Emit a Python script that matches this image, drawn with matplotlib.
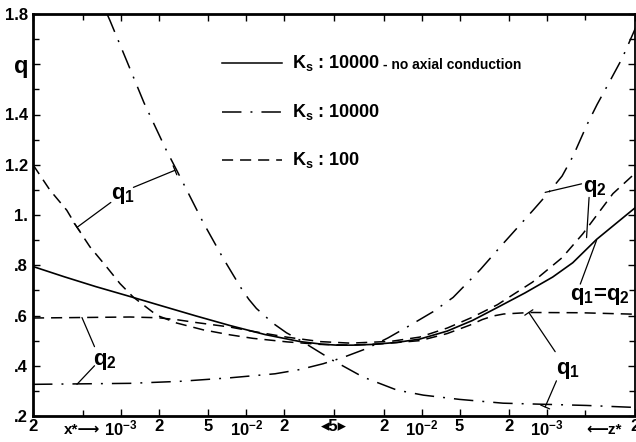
import numpy as np
import matplotlib.pyplot as plt

plt.rcParams['font.family'] = ['Liberation Sans', 'DejaVu Sans']
plt.rcParams['font.weight'] = 'bold'
plt.rcParams['mathtext.fontset'] = 'custom'
plt.rcParams['mathtext.rm'] = 'Liberation Sans:bold'
plt.rcParams['mathtext.it'] = 'Liberation Sans:bold'
plt.rcParams['mathtext.bf'] = 'Liberation Sans:bold'
plt.rcParams['lines.scale_dashes'] = False

# axis position in decades: x* from 2e-4 up to 5e-2 (middle), then z* from 5e-2 down to 2e-4
half = np.log10(5e-2 / 2e-4)

def pos_x(x):
    return np.log10(x / 2e-4)

def pos_z(z):
    return 2 * half - np.log10(z / 2e-4)

# tick values
x_ticks = [2e-4, 1e-3, 2e-3, 5e-3, 1e-2, 2e-2]
x_labels = ['2', '10$^{-3}$', '2', '5', '10$^{-2}$', '2']
z_ticks = [2e-2, 1e-2, 5e-3, 2e-3, 1e-3, 2e-4]
z_labels = ['2', '10$^{-2}$', '5', '2', '10$^{-3}$', '2']
mid_label = '◂5▸'
y_ticks = [0.2, 0.4, 0.6, 0.8, 1.0, 1.2, 1.4, 1.6, 1.8]
y_labels = ['.2', '.4', '.6', '.8', '1.', '1.2', '1.4', 'q', '1.8']

# Ks = 10000, no axial conduction (q1 = q2)
solid_pos = [0, 0.25, 0.5, 0.77, 1.0, 1.3, 1.57, 1.85, 2.13, 2.3, 2.42, 2.55, 2.71, 2.9, 3.08, 3.30, 3.50, 3.70, 3.92, 4.14, 4.30, 4.49, 4.80]
solid_q = [0.795, 0.754, 0.715, 0.676, 0.642, 0.598, 0.560, 0.524, 0.496, 0.486, 0.482, 0.482, 0.485, 0.493, 0.506, 0.538, 0.580, 0.632, 0.69, 0.753, 0.81, 0.903, 1.03]

# Ks = 10000, q1 and q2
dd_q1_pos = [0.59, 0.614, 0.747, 0.884, 1.06, 1.145, 1.355, 1.51, 1.594, 1.663, 1.72, 1.78, 1.915, 2.02, 2.13, 2.39, 2.63, 2.90, 3.11, 3.40, 3.745, 4.41, 4.80]
dd_q1 = [1.80, 1.773, 1.613, 1.447, 1.26, 1.178, 0.971, 0.832, 0.762, 0.705, 0.664, 0.628, 0.568, 0.531, 0.501, 0.421, 0.355, 0.303, 0.283, 0.266, 0.251, 0.242, 0.234]
dd_q2_pos = [0, 0.773, 1.171, 1.57, 1.928, 2.127, 2.311, 2.47, 2.661, 2.829, 3.004, 3.187, 3.347, 3.562, 3.745, 3.984, 4.10, 4.215, 4.303, 4.414, 4.494, 4.598, 4.693, 4.805]
dd_q2 = [0.326, 0.33, 0.338, 0.352, 0.368, 0.385, 0.408, 0.433, 0.469, 0.511, 0.561, 0.615, 0.672, 0.782, 0.886, 1.019, 1.085, 1.155, 1.235, 1.36, 1.44, 1.535, 1.623, 1.75]

# Ks = 100, q1 and q2
d_q1_pos = [0, 0.135, 0.269, 0.348, 0.454, 0.587, 0.693, 0.797, 0.986, 1.145, 1.355, 1.57, 1.753, 2.024, 2.287, 2.526, 2.765, 3.084, 3.299, 3.482, 3.58, 3.665, 3.75, 3.96, 4.359, 4.805]
d_q1 = [1.20, 1.099, 1.019, 0.953, 0.873, 0.793, 0.727, 0.674, 0.601, 0.570, 0.543, 0.523, 0.509, 0.495, 0.485, 0.482, 0.487, 0.50, 0.528, 0.562, 0.584, 0.598, 0.606, 0.612, 0.611, 0.605]
d_q2_pos = [0, 0.773, 1.0, 1.15, 1.30, 1.57, 1.75, 2.02, 2.29, 2.53, 2.85, 3.08, 3.30, 3.50, 3.70, 3.98, 4.215, 4.38, 4.62, 4.805]
d_q2 = [0.59, 0.594, 0.591, 0.583, 0.572, 0.554, 0.537, 0.514, 0.496, 0.49, 0.497, 0.514, 0.55, 0.593, 0.643, 0.733, 0.83, 0.925, 1.085, 1.17]

DD = (14, 6.5, 1.4, 6.5)
DA = (8, 5)

fig = plt.figure(figsize=(6.36, 4.42), dpi=100)
ax = fig.add_axes([33 / 636, 26 / 442, 602 / 636, 402 / 442])

ax.plot(solid_pos, solid_q, color='black', lw=1.2)
ax.plot(dd_q1_pos, dd_q1, color='black', lw=1.1, dashes=DD)
ax.plot(dd_q2_pos, dd_q2, color='black', lw=1.1, dashes=DD)
ax.plot(d_q1_pos, d_q1, color='black', lw=1.1, dashes=DA)
ax.plot(d_q2_pos, d_q2, color='black', lw=1.1, dashes=DA)

ax.set_xlim(0, 2 * half)
ax.set_ylim(0.2, 1.8)

# legend drawn by hand
leg_y = [1.605, 1.41, 1.218]
ax.plot([1.506, 1.984], [leg_y[0]] * 2, color='black', lw=1.1)
ax.plot([1.506, 1.984], [leg_y[1]] * 2, color='black', lw=1.1, dashes=DD)
ax.plot([1.506, 1.984], [leg_y[2]] * 2, color='black', lw=1.1, dashes=DA)
ax.text(2.06, leg_y[0], 'K$_\\mathrm{s}$ : 10000', fontsize=13, va='center')
ax.text(2.79, leg_y[0] - 0.008, '- no axial conduction', fontsize=10, va='center')
ax.text(2.06, leg_y[1], 'K$_\\mathrm{s}$ : 10000', fontsize=13, va='center')
ax.text(2.06, leg_y[2], 'K$_\\mathrm{s}$ : 100', fontsize=13, va='center')

# labels with leader lines
bar = dict(arrowstyle='-[, widthB=0.35, lengthB=0', color='black', lw=0.9, shrinkA=0, shrinkB=0)
plain = dict(arrowstyle='-', color='black', lw=0.9, shrinkA=0, shrinkB=0)

ax.text(0.717, 1.079, 'q$_1$', fontsize=16, ha='center', va='center')
ax.annotate('', xy=(0.351, 0.951), xytext=(0.62, 1.05), arrowprops=bar)
ax.annotate('', xy=(1.131, 1.178), xytext=(0.80, 1.11), arrowprops=bar)

ax.text(0.574, 0.415, 'q$_2$', fontsize=16, ha='center', va='center')
ax.annotate('', xy=(0.39, 0.592), xytext=(0.49, 0.476), arrowprops=plain)
ax.annotate('', xy=(0.35, 0.326), xytext=(0.49, 0.40), arrowprops=plain)

ax.text(4.478, 1.106, 'q$_2$', fontsize=16, ha='center', va='center')
ax.annotate('', xy=(4.08, 1.09), xytext=(4.37, 1.124), arrowprops=plain)
ax.annotate('', xy=(4.41, 0.91), xytext=(4.43, 1.07), arrowprops=plain)

ax.text(4.518, 0.674, 'q$_1$=q$_2$', fontsize=16, ha='center', va='center')
ax.annotate('', xy=(4.49, 0.90), xytext=(4.36, 0.725), arrowprops=plain)

ax.text(4.266, 0.382, 'q$_1$', fontsize=16, ha='center', va='center')
ax.annotate('', xy=(3.95, 0.612), xytext=(4.16, 0.456), arrowprops=bar)
ax.annotate('', xy=(4.08, 0.236), xytext=(4.17, 0.34), arrowprops=bar)

# ticks
pos = [pos_x(v) for v in x_ticks] + [half] + [pos_z(v) for v in z_ticks]
labs = x_labels + [mid_label] + z_labels
ax.set_xticks(pos)
ax.set_xticklabels(labs, fontsize=12)
ax.set_xticks([pos_x(5e-4), pos_z(5e-4)], minor=True)
ax.set_yticks(y_ticks)
ax.set_yticklabels(y_labels, fontsize=12)
ax.set_yticks(np.arange(0.3, 1.8, 0.2), minor=True)
ax.tick_params(which='both', direction='in', top=True, right=True, width=1)
ax.tick_params(which='major', length=5)
ax.tick_params(axis='x', which='major', pad=2)
ax.tick_params(which='minor', length=4)
for t in ax.get_yticklabels():
    if t.get_text() == 'q':
        t.set_fontsize(17)

ax.text(pos_x(4.9e-4), -0.036, 'x*⟶', transform=ax.get_xaxis_transform(), fontsize=11, ha='center', va='center')
ax.text(pos_z(3.5e-4), -0.036, '⟵z*', transform=ax.get_xaxis_transform(), fontsize=11, ha='center', va='center')

for s in ['left', 'bottom', 'top']:
    ax.spines[s].set_linewidth(2)
ax.spines['right'].set_linewidth(1.3)

fig.savefig('out.png', dpi=100)
